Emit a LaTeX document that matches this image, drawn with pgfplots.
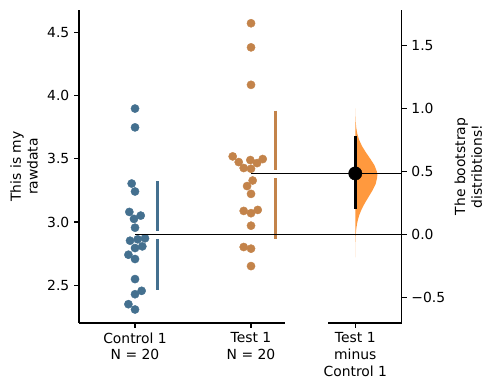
\documentclass[border=0pt]{standalone}
\usepackage{pgfplots}
\pgfplotsset{compat=1.18}
\usepackage{fontspec}
\setmainfont{DejaVu Sans}
\definecolor{cblue}{RGB}{68,112,143}
\definecolor{corange}{RGB}{195,131,74}
\definecolor{vorange}{RGB}{255,153,62}
\begin{document}
\fontsize{13.9bp}{16.7bp}\selectfont
\begin{tikzpicture}
\pgfplotsset{
  common/.style={
    at={(79bp,67bp)}, anchor=south west,
    width=322.7bp, height=313bp, scale only axis,
    xmin=-0.483, xmax=2.299,
    tick align=outside,
    major tick length=4.9bp,
    every tick/.style={black, line width=1.1bp},
    axis line style={line width=1.1bp},
    ylabel style={align=center},
  }
}
% raw data axis
\begin{axis}[common,
  ymin=2.20, ymax=4.68,
  axis y line*=left, axis x line*=bottom,
  x axis line style={draw=none},
  xtick={0,1,1.899},
  xticklabels={Control 1\\N = 20, Test 1\\N = 20, Test 1\\minus\\Control 1},
  xticklabel style={align=center},
  ytick={2.5,3.0,3.5,4.0,4.5},
  yticklabels={2.5,3.0,3.5,4.0,4.5},
  ylabel={This is my\\rawdata},
  clip=false,
]
\draw[line width=1.1bp] (axis cs:-0.483,2.20) -- (axis cs:1.293,2.20);
\draw[line width=1.1bp] (axis cs:1.664,2.20) -- (axis cs:2.299,2.20);
\addplot[only marks, mark=*, mark size=4.1bp, color=cblue, mark options={draw=none, fill=cblue}] coordinates {
(0,3.899) (0,3.750) (-0.029,3.305) (0,3.242) (-0.049,3.080) (0.049,3.051)
(-0.009,3.025) (0,2.955) (-0.043,2.852) (0.023,2.863) (0.086,2.871) (0,2.794)
(0.063,2.807) (-0.057,2.741) (0,2.707) (0,2.548) (0.057,2.455) (0,2.428)
(-0.057,2.349) (0,2.307)};
\addplot[only marks, mark=*, mark size=4.1bp, color=corange, mark options={draw=none, fill=corange}] coordinates {
(1,4.575) (1,4.384) (1,4.087) (0.842,3.520) (0.894,3.475) (0.994,3.491)
(1.101,3.499) (1.052,3.467) (0.937,3.428) (1,3.422) (1.014,3.329) (0.966,3.285)
(1,3.223) (0.937,3.088) (1,3.070) (1.058,3.096) (1,2.971) (0.937,2.802)
(1,2.789) (1,2.651)};
\addplot[cblue, line width=3bp] coordinates {(0.196,3.324) (0.196,2.927)};
\addplot[cblue, line width=3bp] coordinates {(0.196,2.866) (0.196,2.463)};
\addplot[corange, line width=3bp] coordinates {(1.21,3.883) (1.21,3.409)};
\addplot[corange, line width=3bp] coordinates {(1.21,3.348) (1.21,2.868)};
\end{axis}
% contrast axis
\begin{axis}[common,
  ymin=-0.70, ymax=1.78,
  axis y line*=right, axis x line=none,
  ytick={-0.5,0,0.5,1.0,1.5},
  yticklabels={−0.5,0.0,0.5,1.0,1.5},
  ylabel={The bootstrap\\distribtions!},
]
\addplot[fill=vorange, draw=none] coordinates {
(1.899,-0.18) (1.8997,-0.10) (1.9008,-0.05) (1.9032,0.00) (1.908,0.05)
(1.9168,0.10) (1.9313,0.15) (1.9528,0.20) (1.9813,0.25) (2.014,0.30)
(2.047,0.35) (2.074,0.40) (2.087,0.45) (2.089,0.475) (2.085,0.50)
(2.064,0.55) (2.029,0.60) (1.9915,0.65) (1.9576,0.70) (1.9323,0.75)
(1.9159,0.80) (1.9067,0.85) (1.9021,0.90) (1.9001,0.95) (1.899,1.00)} -- cycle;
\addplot[black, line width=1.1bp] coordinates {(0,0) (2.299,0)};
\addplot[black, line width=1.1bp] coordinates {(1,0.485) (2.299,0.485)};
\addplot[black, line width=3.3bp] coordinates {(1.899,0.204) (1.899,0.778)};
\addplot[only marks, mark=*, mark size=6.7bp, black] coordinates {(1.899,0.485)};
\end{axis}
\pgfresetboundingbox
\path (0,0) rectangle (490bp,390bp);
\end{tikzpicture}
\end{document}
